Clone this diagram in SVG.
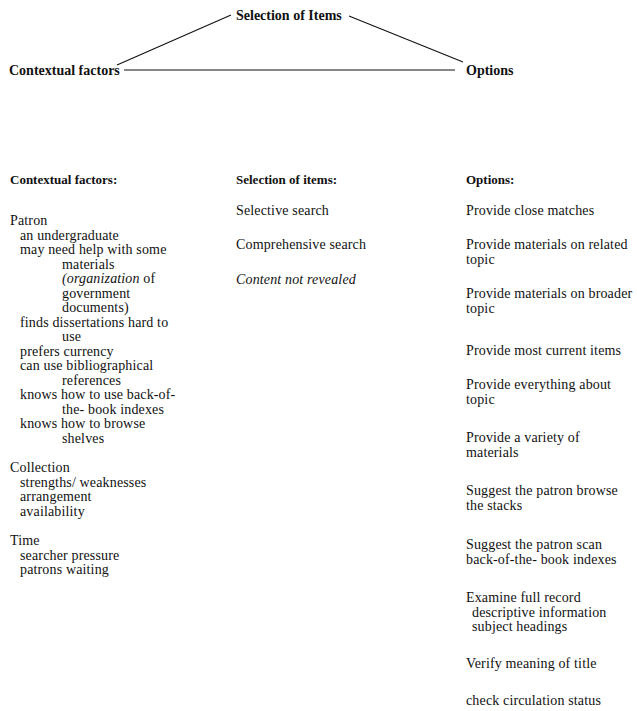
<svg xmlns="http://www.w3.org/2000/svg" width="637" height="711" viewBox="0 0 637 711">
<style>
text{font-family:"Liberation Serif","Times New Roman",serif;font-size:14px;letter-spacing:0.15px;fill:#111}
.b{font-weight:bold;font-size:13px;letter-spacing:0}
.t{font-weight:bold;font-size:14px;letter-spacing:0}
.i{font-style:italic}
.c{stroke:#111;stroke-width:1.1;fill:none}
</style>
<rect width="637" height="711" fill="#fff"/>
<g id="connectors">
<line class="c" x1="117" y1="65" x2="231" y2="15"/>
<line class="c" x1="349" y1="16" x2="463" y2="62"/>
<line class="c" x1="124" y1="70" x2="455" y2="70"/>
</g>
<g id="node-selection"><text class="t" x="236" y="20">Selection of Items</text></g>
<g id="node-contextual"><text class="t" x="9" y="75">Contextual factors</text></g>
<g id="node-options"><text class="t" x="466" y="75">Options</text></g>
<g id="col-contextual">
<text class="b" x="10" y="184">Contextual factors:</text>
<text x="10" y="225">Patron</text>
<text x="20" y="239.5">an undergraduate</text>
<text x="20" y="254">may need help with some</text>
<text x="62" y="268.5">materials</text>
<text x="62" y="283" class="i">(organization <tspan font-style="normal">of</tspan></text>
<text x="62" y="297.5">government</text>
<text x="62" y="312">documents)</text>
<text x="20" y="326.5">finds dissertations hard to</text>
<text x="62" y="341">use</text>
<text x="20" y="355.5">prefers currency</text>
<text x="20" y="370">can use bibliographical</text>
<text x="62" y="384.5">references</text>
<text x="20" y="399">knows how to use back-of-</text>
<text x="62" y="413.5">the- book indexes</text>
<text x="20" y="428">knows how to browse</text>
<text x="62" y="442.5">shelves</text>
<text x="10" y="472">Collection</text>
<text x="20" y="486.5">strengths/ weaknesses</text>
<text x="20" y="501">arrangement</text>
<text x="20" y="515.5">availability</text>
<text x="10" y="545">Time</text>
<text x="20" y="559.5">searcher pressure</text>
<text x="20" y="574">patrons waiting</text>
</g>
<g id="col-selection">
<text class="b" x="236" y="184">Selection of items:</text>
<text x="236" y="215">Selective search</text>
<text x="236" y="249">Comprehensive search</text>
<text x="236" y="284" class="i">Content not revealed</text>
</g>
<g id="col-options">
<text class="b" x="466" y="184">Options:</text>
<text x="466" y="215">Provide close matches</text>
<text x="466" y="249">Provide materials on related</text>
<text x="466" y="264">topic</text>
<text x="466" y="298">Provide materials on broader</text>
<text x="466" y="313">topic</text>
<text x="466" y="355">Provide most current items</text>
<text x="466" y="389">Provide everything about</text>
<text x="466" y="404">topic</text>
<text x="466" y="442">Provide a variety of</text>
<text x="466" y="457">materials</text>
<text x="466" y="495">Suggest the patron browse</text>
<text x="466" y="510">the stacks</text>
<text x="466" y="549">Suggest the patron scan</text>
<text x="466" y="564">back-of-the- book indexes</text>
<text x="466" y="602">Examine full record</text>
<text x="472" y="617">descriptive information</text>
<text x="472" y="631">subject headings</text>
<text x="466" y="668">Verify meaning of title</text>
<text x="466" y="705">check circulation status</text>
</g>
</svg>
